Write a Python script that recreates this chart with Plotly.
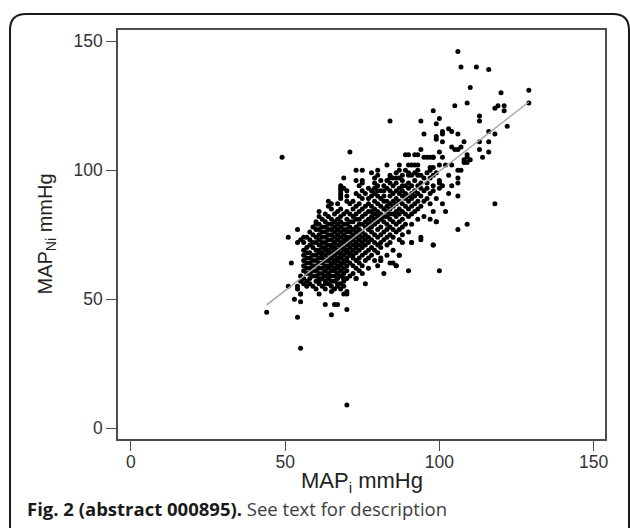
import plotly.graph_objects as go

# ---------------- data ----------------
# dense cluster, one row per MAP_Ni level (mmHg) -> MAP_i values on that row
core_y = [100, 99, 98, 97, 96, 95, 94, 93, 92, 91, 90, 89, 88, 87, 86, 85, 84, 83, 82, 81,
          80, 79, 78, 77, 76, 75, 74, 73, 72, 71, 70, 69, 68, 67, 66, 65, 64, 63, 62, 61,
          60, 59, 58, 57, 56, 55, 54, 53, 52]
core_x = [
    [73, 75, 80, 87, 89, 93, 97],
    [78, 86, 90, 92, 96, 99],
    [80, 84, 88, 90, 91, 93, 94, 98],
    [69, 79, 84, 85, 86, 87, 95, 97],
    [73, 75, 81, 83, 88, 92, 100],
    [75, 79, 84, 86, 90, 94, 96],
    [68, 74, 80, 82, 85, 88, 89, 91, 93, 98],
    [68, 69, 77, 79, 83, 87, 90, 94, 96, 100],
    [68, 70, 75, 78, 80, 81, 82, 84, 86, 88, 92, 95, 98],
    [68, 73, 76, 79, 85, 87, 89, 91, 93, 97, 103],
    [68, 70, 74, 78, 80, 82, 84, 88, 90, 92, 94, 106],
    [68, 75, 77, 81, 86, 89, 91, 96, 99],
    [64, 70, 72, 79, 82, 83, 85, 87, 90, 93, 95],
    [65, 67, 71, 74, 77, 80, 84, 86, 88, 92, 97, 101],
    [64, 73, 76, 78, 81, 83, 85, 89, 91, 94],
    [65, 68, 72, 75, 79, 82, 84, 87, 90, 93],
    [61, 67, 70, 74, 77, 78, 80, 83, 86, 88, 92, 98],
    [63, 66, 69, 71, 73, 76, 79, 81, 84, 85, 87, 89, 91],
    [61, 64, 68, 72, 75, 78, 80, 82, 83, 86, 90, 95],
    [62, 65, 67, 70, 73, 74, 77, 79, 81, 84, 88, 93],
    [60, 63, 66, 68, 71, 72, 76, 78, 80, 82, 85, 87, 99],
    [61, 64, 65, 67, 69, 70, 74, 75, 77, 79, 83, 86, 89, 91],
    [59, 62, 63, 66, 68, 71, 73, 76, 78, 81, 84, 88],
    [60, 61, 64, 65, 67, 69, 70, 72, 74, 77, 80, 83, 85, 87],
    [58, 62, 63, 66, 68, 70, 71, 73, 75, 78, 82, 86, 90],
    [59, 61, 64, 65, 67, 69, 72, 74, 76, 79, 81, 84, 88],
    [57, 60, 62, 63, 66, 68, 70, 71, 73, 75, 77, 80, 83, 85, 94],
    [58, 61, 64, 65, 67, 69, 70, 72, 74, 76, 78, 82, 87],
    [56, 59, 60, 62, 63, 66, 68, 69, 71, 73, 75, 77, 79, 81, 84, 88, 91],
    [58, 61, 64, 65, 67, 68, 70, 72, 74, 76, 80, 83, 98],
    [57, 59, 62, 63, 65, 66, 68, 69, 71, 73, 75, 78, 81],
    [56, 60, 61, 63, 64, 66, 67, 69, 70, 72, 74, 77, 79, 85],
    [57, 58, 61, 62, 64, 65, 67, 68, 70, 71, 73, 76, 80],
    [56, 59, 60, 62, 63, 65, 66, 68, 69, 71, 72, 75, 78, 83, 87],
    [57, 58, 61, 62, 64, 65, 67, 68, 70, 72, 74, 77, 81],
    [56, 59, 60, 63, 64, 66, 67, 69, 70, 73, 76, 79, 81],
    [52, 57, 58, 61, 62, 65, 66, 68, 69, 71, 74, 84, 85],
    [56, 59, 60, 63, 64, 65, 67, 68, 70, 72, 75, 80, 86],
    [57, 58, 61, 62, 64, 66, 67, 69, 73, 77],
    [56, 59, 60, 63, 65, 66, 68, 70, 74, 90, 100],
    [57, 58, 61, 62, 64, 67, 69, 72, 75, 82],
    [55, 59, 60, 63, 65, 66, 68, 71],
    [56, 58, 61, 62, 64, 67, 69, 70, 73],
    [55, 57, 60, 61, 63, 65, 66, 69],
    [56, 58, 61, 63, 64, 67, 68, 76],
    [51, 54, 57, 59, 62, 65, 67, 69],
    [54, 60, 63, 66, 68],
    [65, 70],
    [55, 61, 69, 70],
]

# scattered points outside the dense cluster (MAP_i, MAP_Ni)
extra_x = [106, 107, 112, 116, 110, 129, 120, 129, 109, 105, 118, 119, 121, 121, 98, 113, 113,
           84, 94, 100, 99, 122, 103, 104, 101, 101, 99, 99, 106, 95, 116, 118, 101, 108, 113,
           116, 104, 105, 106, 107, 113, 116, 94, 71, 49, 114, 109, 109, 110, 108, 100, 101,
           98, 108, 109, 97, 98, 100, 102, 104, 106, 107, 103, 106, 106, 104, 100, 101, 83,
           87, 89, 90, 92, 93, 95, 96, 97, 98, 90, 91, 92, 93,
           118, 109, 106, 98, 94, 102, 99, 97, 86, 87, 91, 81,
           44, 54, 55, 70, 65, 70, 63, 66, 67, 53, 55, 54, 54, 55, 56, 51, 55, 73, 69, 60]
extra_y = [146, 140, 140, 139, 132, 131, 130, 126, 126, 125, 124, 125, 125, 123, 123, 121, 119,
           119, 119, 120, 118, 117, 116, 115, 115, 114, 113, 112, 114, 114, 115, 114, 111, 111, 111,
           111, 109, 108, 108, 109, 108, 107, 108, 107, 105, 105, 106, 105, 104, 104, 107, 105,
           105, 103, 103, 101, 101, 102, 102, 102, 100, 100, 98, 97, 95, 94, 95, 94, 102,
           102, 106, 106, 106, 106, 105, 105, 105, 105, 102, 102, 102, 102,
           87, 79, 77, 71, 73, 84, 80, 81, 63, 67, 72, 65,
           45, 43, 31, 9, 44, 46, 48, 48, 48, 50, 49, 77, 72, 73, 74, 74, 52, 58, 58, 79]

# fitted line, end points
fit_x = [44, 129]
fit_y = [47.8, 126.4]

tick_vals = [0, 50, 100, 150]
x_title = "MAP<sub>i</sub> mmHg"
y_title = "MAP<sub>Ni</sub> mmHg"
caption_bold = "Fig. 2 (abstract 000895)."
caption_rest = " See text for description"

# ---------------- build ----------------
pts_x, pts_y = [], []
for yv, xs in zip(core_y, core_x):
    for xv in xs:
        pts_x.append(xv)
        pts_y.append(yv)
pts_x += extra_x
pts_y += extra_y

W, H = 630, 528
ML, MR, MT, MB = 118, 25, 30, 89
PW, PH = W - ML - MR, H - MT - MB


def px(xp):
    return (xp - ML) / PW


def py(yp):
    return (H - MB - yp) / PH


SANS = "Liberation Sans, Arial, sans-serif"

fig = go.Figure()
fig.add_trace(go.Scatter(x=pts_x, y=pts_y, mode="markers",
                         marker=dict(size=5, color="black", line=dict(width=0)),
                         showlegend=False, hoverinfo="x+y"))
fig.add_trace(go.Scatter(x=fit_x, y=fit_y, mode="lines",
                         line=dict(color="#a6a6a6", width=1.5),
                         showlegend=False, hoverinfo="skip"))

axis_common = dict(showgrid=False, zeroline=False, showline=True, mirror=True,
                   linecolor="#4d4d4d", linewidth=1.5, ticks="outside", ticklen=10,
                   tickwidth=1.3, tickcolor="#4d4d4d", tickvals=tick_vals,
                   tickfont=dict(family=SANS, size=17.5, color="#333"))

fig.update_xaxes(range=[-4.2, 153.7], ticklabelstandoff=-4, **axis_common)
fig.update_yaxes(range=[-4.15, 154.3], **axis_common)

# rounded journal frame
fx0, fx1, fy0, fy1, r = 10, 629, 14, 560, 16
path = (f"M {px(fx0)},{py(fy1)} L {px(fx0)},{py(fy0 + r)} "
        f"Q {px(fx0)},{py(fy0)} {px(fx0 + r)},{py(fy0)} "
        f"L {px(fx1 - r)},{py(fy0)} "
        f"Q {px(fx1)},{py(fy0)} {px(fx1)},{py(fy0 + r)} "
        f"L {px(fx1)},{py(fy1)}")
fig.add_shape(type="path", path=path, xref="paper", yref="paper",
              line=dict(color="#1a1a1a", width=2))

fig.add_annotation(text=x_title, xref="paper", yref="paper", x=0.5, y=py(482),
                   xanchor="center", yanchor="middle", showarrow=False,
                   font=dict(family=SANS, size=22, color="#222"))
fig.add_annotation(text=y_title, xref="paper", yref="paper", x=px(46), y=0.5,
                   xanchor="center", yanchor="middle", showarrow=False, textangle=-90,
                   font=dict(family=SANS, size=20, color="#222"))
fig.add_annotation(text=f"<b>{caption_bold}</b><span style='color:#3d3d3d'>{caption_rest}</span>",
                   xref="paper", yref="paper", x=px(25), y=py(508),
                   xanchor="left", yanchor="middle", showarrow=False,
                   font=dict(family="Open Sans, sans-serif", size=18.5, color="#1a1a1a"))

fig.update_layout(width=W, height=H, margin=dict(l=ML, r=MR, t=MT, b=MB),
                  plot_bgcolor="white", paper_bgcolor="white")

fig.write_html("out.html", config={"displayModeBar": False},
               post_script="document.body.style.margin='0';document.body.style.overflow='hidden';")
